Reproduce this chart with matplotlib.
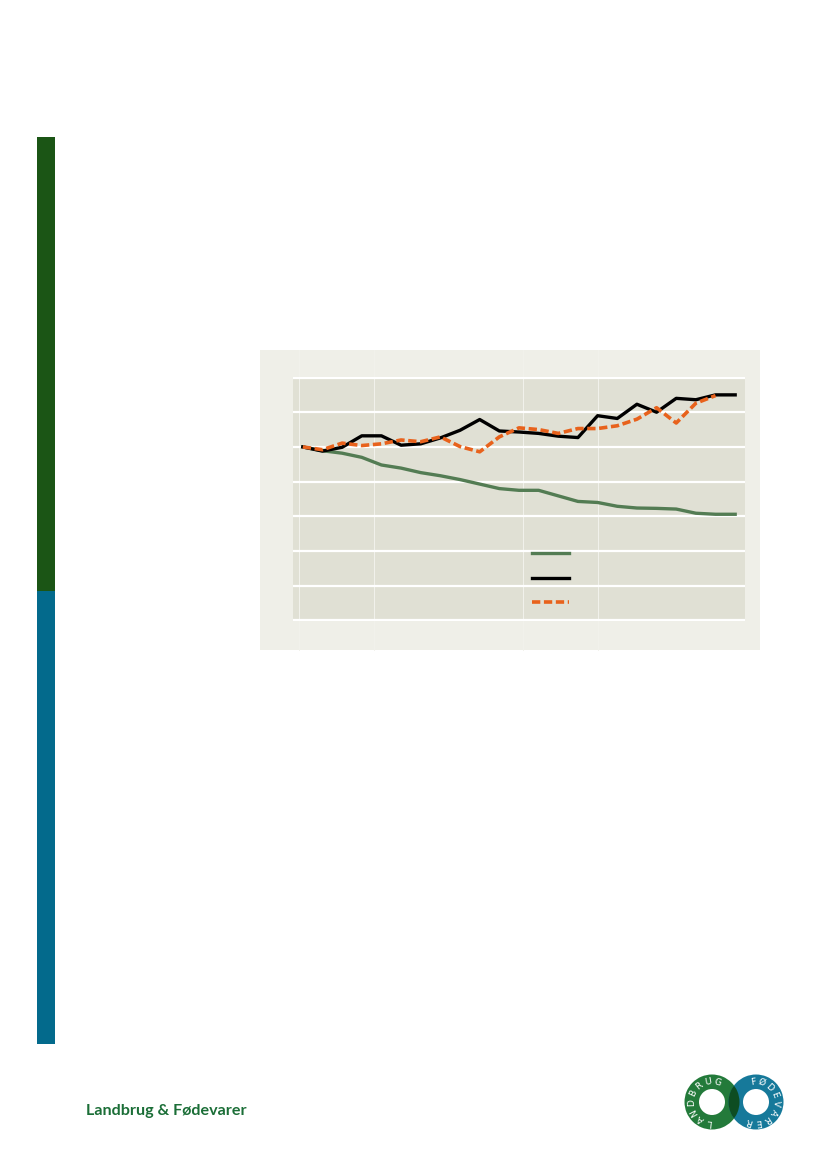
import numpy as np
import matplotlib
matplotlib.use("Agg")
import matplotlib.pyplot as plt
from matplotlib.patches import Rectangle, Wedge
from matplotlib.lines import Line2D

# data (index, first year = 100)
years = list(range(1990, 2013))
green_vals = [100, 98.9, 98.2, 97.0, 94.8, 93.9, 92.6, 91.7, 90.6, 89.3, 88.0, 87.5,
              87.5, 85.9, 84.3, 84.0, 82.9, 82.4, 82.3, 82.1, 80.9, 80.6, 80.6]
black_vals = [100, 98.8, 99.9, 103.2, 103.2, 100.5, 100.9, 102.6, 104.8, 107.9, 104.6, 104.3,
              103.9, 103.1, 102.7, 109.0, 108.2, 112.3, 110.0, 114.0, 113.6, 115.0, 115.0]
orange_vals = [100, 99.2, 101.1, 100.4, 100.9, 102.0, 101.5, 102.9, 100.1, 98.6, 102.9, 105.5,
               105.0, 103.9, 105.3, 105.3, 106.1, 108.0, 111.3, 106.9, 112.6, 114.8]
yticks = [50, 60, 70, 80, 90, 100, 110, 120]
vgrid = [1989.8, 1993.6, 2001.2, 2005.0]

W, H = 826, 1169
fig = plt.figure(figsize=(W / 100, H / 100), dpi=100)
fig.patch.set_facecolor("white")

def fx(px):
    return px / W

def fy(py):
    return 1 - py / H

# side bars
fig.add_artist(Rectangle((fx(37), fy(591)), fx(18), (591 - 137) / H,
                         transform=fig.transFigure, color="#1B5515", lw=0))
fig.add_artist(Rectangle((fx(37), fy(1044)), fx(18), (1044 - 591) / H,
                         transform=fig.transFigure, color="#036A8C", lw=0))

# chart panel
fig.add_artist(Rectangle((fx(260), fy(650)), fx(500), 300 / H,
                         transform=fig.transFigure, color="#EFEFE8", lw=0, zorder=0))

ax = fig.add_axes([fx(293), fy(621), fx(452), 244 / H])
ax.set_facecolor("#E0E0D4")
for s in ax.spines.values():
    s.set_visible(False)
ax.set_xlim(years[0] - 0.5, years[-1] + 0.5)
ax.set_ylim(49.85, 120.15)
ax.set_yticks(yticks)
ax.set_xticks([])
ax.tick_params(left=False, labelleft=False, bottom=False, labelbottom=False)
ax.grid(axis="y", color="white", lw=1.6)
ax.set_axisbelow(True)
for v in vgrid:
    ax.axvline(v, ymin=-0.12, ymax=1.11, clip_on=False, color="#F2F2EC", lw=0.7, zorder=0.5)

dash = (2.3, 1.0)
ax.plot(years, green_vals, color="#537C53", lw=2.4, zorder=3)
ax.plot(years, black_vals, color="black", lw=2.4, zorder=4)
ax.plot(years[:len(orange_vals)], orange_vals, color="#E8621C", lw=2.6,
        dashes=dash, zorder=5)

handles = [Line2D([], [], color="#537C53", lw=2.4),
           Line2D([], [], color="black", lw=2.4),
           Line2D([], [], color="#E8621C", lw=2.6, dashes=dash)]
ax.legend(handles, ["", "", ""], loc="upper left", bbox_to_anchor=(0.529, 0.303),
          frameon=False, fontsize=10, handlelength=2.66, handletextpad=0.3,
          labelspacing=0.75, borderpad=0, borderaxespad=0)

# footer text
fig.text(fx(86), fy(1115), "Landbrug & Fødevarer", fontsize=11.6, fontweight="bold",
         family="Lato", color="#1B6E37", va="baseline", ha="left")

# logo rings (in inches from bottom-left)
def inch(px, py):
    return (px / 100, (H - py) / 100)

r_out, r_in = 0.275, 0.13
c_green = inch(712, 1102)
c_blue = inch(756, 1102)
t = fig.dpi_scale_trans
g_ring = Wedge(c_green, r_out, 0, 360, width=r_out - r_in, color="#237A3A", lw=0, transform=t)
b_ring = Wedge(c_blue, r_out, 0, 360, width=r_out - r_in, color="#16799A", lw=0, transform=t)
fig.add_artist(g_ring)
fig.add_artist(b_ring)
overlap = Wedge(c_green, r_out, 0, 360, width=r_out - r_in, color="#0E4D22", lw=0, transform=t)
fig.add_artist(overlap)
overlap.set_clip_path(b_ring)

r_mid = (r_out + r_in) / 2
for word, a0, step, c in [("LANDBRUG", 263, -27, c_green), ("FØDEVARER", 99, -26, c_blue)]:
    for k, ch in enumerate(word):
        a = np.deg2rad(a0 + step * k)
        fig.text(c[0] + r_mid * np.cos(a), c[1] + r_mid * np.sin(a), ch,
                 transform=t, rotation=np.rad2deg(a) - 90, rotation_mode="anchor",
                 ha="center", va="center", color="white", fontsize=6.6,
                 family="DejaVu Sans")

fig.savefig("out.png", dpi=100, facecolor="white")
